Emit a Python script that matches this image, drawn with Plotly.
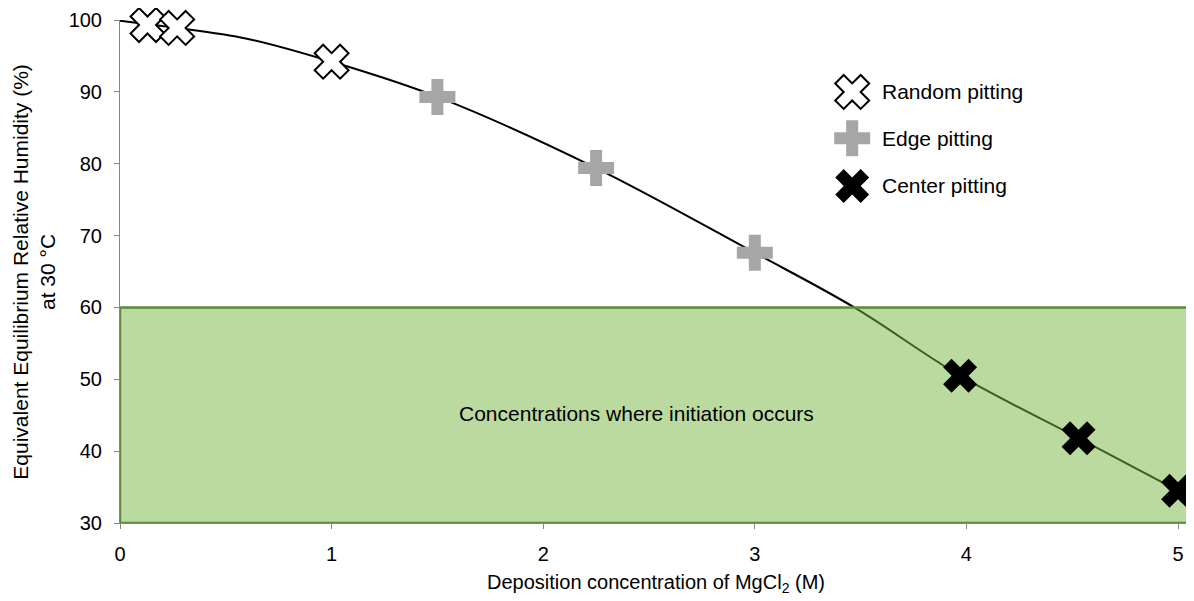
import plotly.graph_objects as go

# ---- data ----
random_x = [0.13, 0.27, 1.0]
random_y = [99.3, 98.9, 94.2]
edge_x = [1.5, 2.25, 3.0]
edge_y = [89.3, 79.4, 67.6]
center_x = [3.97, 4.53, 5.0]
center_y = [50.5, 41.8, 34.5]

curve_x = [0.0, 0.13, 0.27, 0.6, 1.0, 1.5, 2.25, 3.0, 3.47, 3.97, 4.53, 5.0]
curve_y = [99.9, 99.4, 98.9, 97.4, 94.2, 89.3, 79.4, 67.6, 60.0, 50.5, 41.8, 34.5]

x_max = 5.066
region_x = [0.0, x_max]
region_y = [30, 60]
region_label = "Concentrations where initiation occurs"

legend_names = ["Random pitting", "Edge pitting", "Center pitting"]

x_ticks = [0, 1, 2, 3, 4, 5]
y_ticks = [30, 40, 50, 60, 70, 80, 90, 100]

FONT = "Liberation Sans, Arial, sans-serif"
FS = 20
FS_TXT = 21
MS = 30

fig = go.Figure()

# smooth curve (drawn under the translucent region)
fig.add_trace(go.Scatter(x=curve_x, y=curve_y, mode="lines",
                         line=dict(color="black", width=2, shape="spline", smoothing=1),
                         showlegend=False, hoverinfo="skip"))

# region rectangle
fig.add_trace(go.Scatter(
    x=[region_x[0], region_x[1], region_x[1], region_x[0], region_x[0]],
    y=[region_y[0], region_y[0], region_y[1], region_y[1], region_y[0]],
    mode="lines", fill="toself", fillcolor="rgba(119,183,67,0.51)",
    line=dict(color="#5c8c3c", width=2.5), showlegend=False, hoverinfo="skip"))

marker_styles = [
    dict(symbol="x", size=MS, color="white", line=dict(color="black", width=2)),
    dict(symbol="cross", size=MS, color="#a6a6a6", line=dict(width=0)),
    dict(symbol="x", size=MS, color="black", line=dict(width=0)),
]
for (xs, ys), st, nm in zip([(random_x, random_y), (edge_x, edge_y), (center_x, center_y)],
                            marker_styles, legend_names):
    fig.add_trace(go.Scatter(x=xs, y=ys, mode="markers", marker=st, name=nm,
                             cliponaxis=False, showlegend=False))

# custom legend on an overlay axis in plot fractions
leg_x = 0.683
leg_y = [0.857, 0.765, 0.670]
for st, nm, ly in zip(marker_styles, legend_names, leg_y):
    fig.add_trace(go.Scatter(x=[leg_x], y=[ly], mode="markers", marker=st,
                             xaxis="x2", yaxis="y2", showlegend=False,
                             cliponaxis=False, hoverinfo="skip"))
    fig.add_annotation(x=leg_x + 0.026, y=ly, xref="x2", yref="y2", text=nm,
                       showarrow=False, xanchor="left", yanchor="middle",
                       font=dict(family=FONT, size=FS_TXT, color="black"))

fig.add_annotation(x=2.44, y=45.3, text=region_label, showarrow=False,
                   font=dict(family=FONT, size=FS_TXT, color="black"))

fig.add_annotation(x=-0.081, y=0.5, xref="paper", yref="paper", textangle=-90,
                   xanchor="center", yanchor="middle",
                   text="Equivalent Equilibrium Relative Humidity (%)<br>at 30 °C",
                   showarrow=False, font=dict(family=FONT, size=21, color="black"))

axis_common = dict(showgrid=False, zeroline=False, showline=True, linecolor="#868686",
                   linewidth=1, ticks="outside", ticklen=5, tickcolor="#868686",
                   tickfont=dict(family=FONT, size=FS, color="black"))

# page body has an 8px margin, so the figure is made 8px smaller and shifted
fig.update_layout(
    width=1186, height=593,
    margin=dict(l=112, r=2, t=12, b=78),
    plot_bgcolor="white", paper_bgcolor="white",
    font=dict(family=FONT, size=FS, color="black"),
    xaxis=dict(range=[0, x_max], tickvals=x_ticks, ticklabelstandoff=8,
               title=dict(text="Deposition concentration of MgCl<sub>2</sub> (M)",
                          font=dict(family=FONT, size=FS), standoff=10),
               **axis_common),
    yaxis=dict(range=[30, 100], tickvals=y_ticks, ticklabelstandoff=8, **axis_common),
    xaxis2=dict(range=[0, 1], overlaying="x", visible=False, fixedrange=True),
    yaxis2=dict(range=[0, 1], overlaying="y", visible=False, fixedrange=True),
    showlegend=False,
)

fig.write_html("out.html")
